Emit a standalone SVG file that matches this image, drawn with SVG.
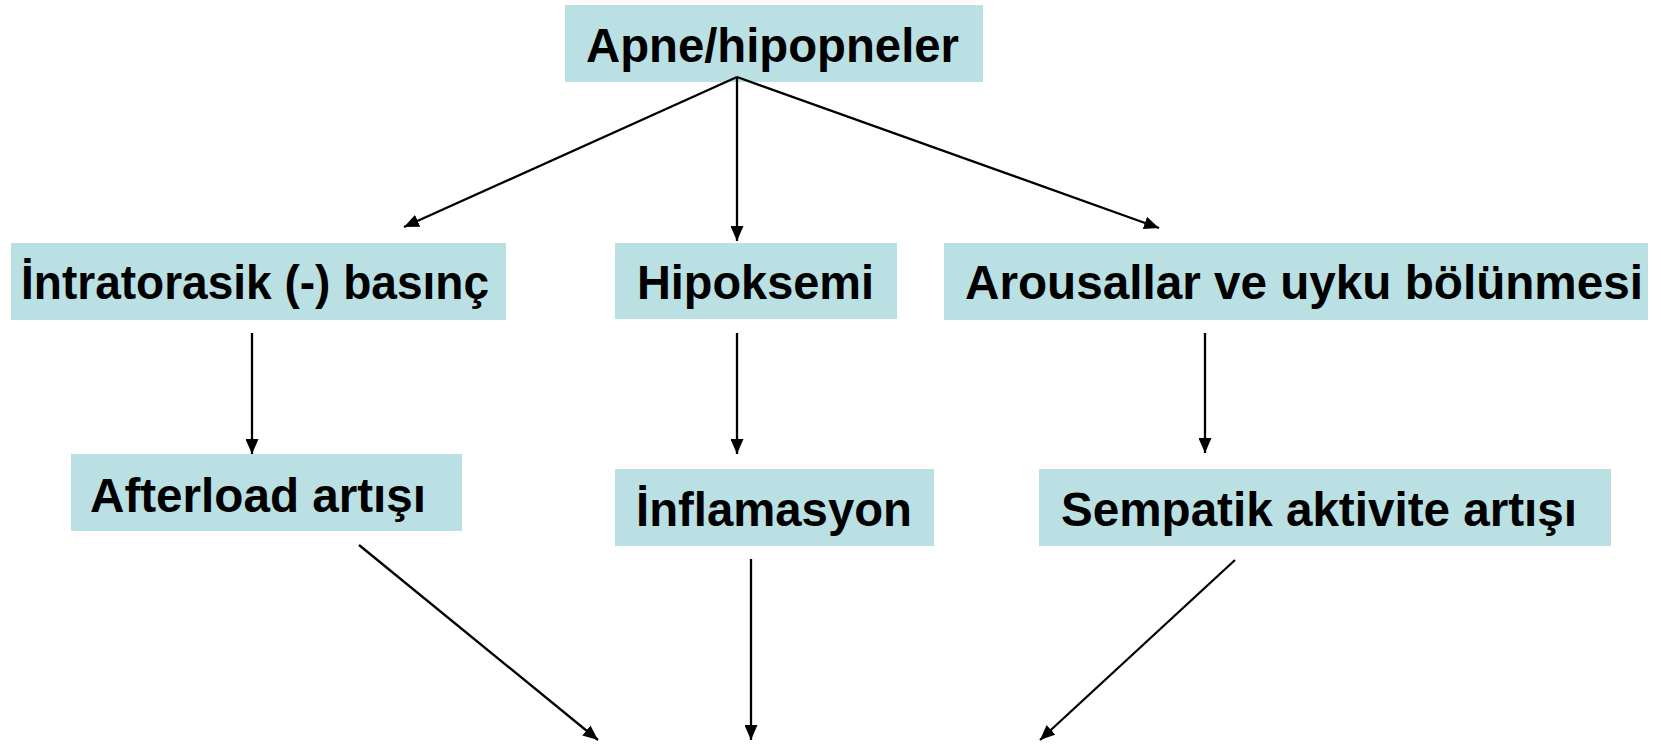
<svg xmlns="http://www.w3.org/2000/svg" width="1661" height="744" viewBox="0 0 1661 744">
<defs>
<style>
.box{fill:#BAE0E3;}
.lbl{font-family:"Liberation Sans",Arial,sans-serif;font-weight:bold;font-size:48px;fill:#000;}
.cn{fill:none;stroke:#000;stroke-width:2.3;marker-end:url(#ah);}
</style>
<marker id="ah" markerUnits="userSpaceOnUse" markerWidth="16" markerHeight="13" refX="15" refY="6.5" orient="auto">
<path d="M0,0 L15,6.5 L0,13 z" fill="#000"/>
</marker>
</defs>
<rect width="1661" height="744" fill="#fff"/>
<g id="n-apne"><rect class="box" x="565" y="5" width="418" height="77"/><text class="lbl" x="586" y="62" textLength="373" lengthAdjust="spacingAndGlyphs">Apne/hipopneler</text></g>
<g id="n-intratorasik"><rect class="box" x="11" y="243" width="495" height="77"/><text class="lbl" x="21" y="299" font-size="50" textLength="468" lengthAdjust="spacingAndGlyphs">İntratorasik (-) basınç</text></g>
<g id="n-hipoksemi"><rect class="box" x="615" y="243" width="282" height="76"/><text class="lbl" x="637" y="299" textLength="237" lengthAdjust="spacingAndGlyphs">Hipoksemi</text></g>
<g id="n-arousallar"><rect class="box" x="944" y="243" width="704" height="77"/><text class="lbl" x="965" y="299" font-size="50" textLength="678" lengthAdjust="spacingAndGlyphs">Arousallar ve uyku bölünmesi</text></g>
<g id="n-afterload"><rect class="box" x="71" y="454" width="391" height="77"/><text class="lbl" x="90" y="512" textLength="336" lengthAdjust="spacingAndGlyphs">Afterload artışı</text></g>
<g id="n-inflamasyon"><rect class="box" x="615" y="469" width="319" height="77"/><text class="lbl" x="636" y="526" textLength="276" lengthAdjust="spacingAndGlyphs">İnflamasyon</text></g>
<g id="n-sempatik"><rect class="box" x="1039" y="469" width="572" height="77"/><text class="lbl" x="1061" y="526" font-size="49" textLength="516" lengthAdjust="spacingAndGlyphs">Sempatik aktivite artışı</text></g>
<g id="connectors">
<line class="cn" x1="737" y1="77" x2="404" y2="227"/>
<line class="cn" x1="737" y1="77" x2="737" y2="241"/>
<line class="cn" x1="737" y1="77" x2="1159" y2="228"/>
<line class="cn" x1="252" y1="333" x2="252" y2="454"/>
<line class="cn" x1="737" y1="333" x2="737" y2="454"/>
<line class="cn" x1="1205" y1="333" x2="1205" y2="453"/>
<line class="cn" x1="359" y1="545" x2="598" y2="740"/>
<line class="cn" x1="751" y1="559" x2="751" y2="740"/>
<line class="cn" x1="1235" y1="560" x2="1040" y2="740"/>
</g>
</svg>
